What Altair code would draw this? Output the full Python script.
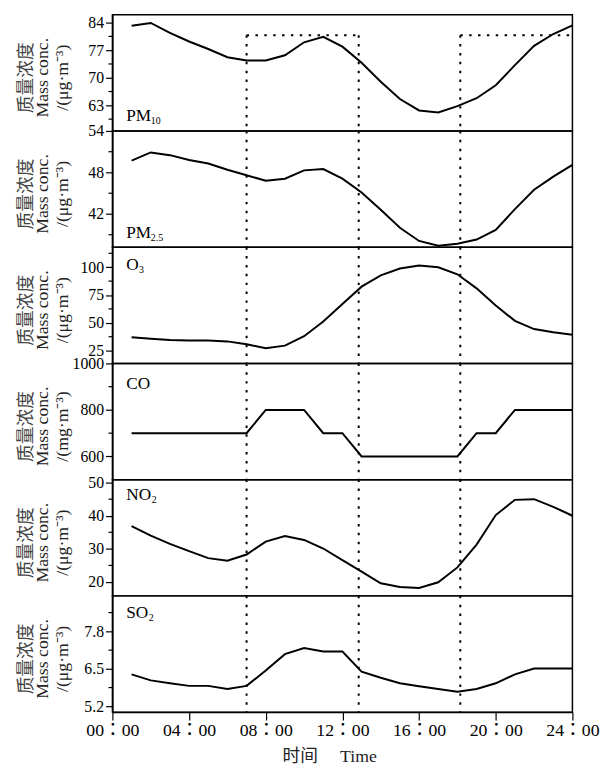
import altair as alt
import pandas as pd

hours = list(range(1, 25))
pm10 = [83.2, 83.9, 81.4, 79.2, 77.3, 75.2, 74.4, 74.4, 75.7, 79.0, 80.4, 77.9,
        73.8, 69.0, 64.6, 61.7, 61.2, 62.8, 64.8, 68.1, 73.2, 78.1, 81.1, 83.3]
pm25 = [49.7, 50.9, 50.5, 49.8, 49.3, 48.4, 47.6, 46.8, 47.1, 48.3, 48.5, 47.1,
        45.1, 42.6, 40.0, 38.1, 37.4, 37.7, 38.3, 39.7, 42.7, 45.5, 47.4, 49.1]
o3 = [37.1, 35.7, 34.5, 34.2, 34.2, 33.3, 30.7, 27.2, 29.5, 38.0, 51.2, 67.0,
      82.5, 92.7, 98.8, 101.5, 100.0, 93.6, 81.0, 65.5, 51.8, 44.4, 41.5, 39.2]
co = [700, 700, 700, 700, 700, 700, 700, 800, 800, 800, 700, 700,
      600, 600, 600, 600, 600, 600, 700, 700, 800, 800, 800, 800]
no2 = [36.9, 34.0, 31.5, 29.3, 27.2, 26.4, 28.3, 32.2, 33.9, 32.7, 30.1, 26.6,
       23.1, 19.6, 18.5, 18.2, 19.9, 24.4, 31.3, 40.2, 44.8, 45.0, 42.7, 40.0]
so2 = [6.31, 6.10, 6.00, 5.91, 5.91, 5.80, 5.91, 6.44, 7.01, 7.22, 7.10, 7.10,
       6.40, 6.19, 6.00, 5.90, 5.80, 5.71, 5.80, 6.00, 6.31, 6.51, 6.51, 6.51]

period_lines = [7, 12.85, 18.15]
box_start = [7, 18.15]
box_end = [12.85, 24]
box_top = 80.8
x_ticks = [0, 4, 8, 12, 16, 20, 24]

W, H = 467, 118
SERIF = "Liberation Serif, Noto Sans CJK TC"
TXT = "#222"

panels = [
    dict(vals=pm10, dom=[56.5, 86], ticks=[63, 70, 77, 84], minor=[59.5, 66.5, 73.5, 80.5],
         unit="/(μg·m⁻³)", lab="PM", sub="10", ly=108, sx=39, fmt="d"),
    dict(vals=pm25, dom=[37.2, 54], ticks=[42, 48, 54], minor=[39, 45, 51],
         unit="/(μg·m⁻³)", lab="PM", sub="2.5", ly=109, sx=39, fmt="d"),
    dict(vals=o3, dom=[13.5, 118], ticks=[25, 50, 75, 100], minor=[37.5, 62.5, 87.5, 112.5],
         unit="/(μg·m⁻³)", lab="O", sub="3", ly=23, sx=27, fmt="d"),
    dict(vals=co, dom=[500, 1000], ticks=[600, 800, 1000], minor=[700, 900],
         unit="/(mg·m⁻³)", lab="CO", sub="", ly=26, sx=40, fmt="d"),
    dict(vals=no2, dom=[15.8, 50.9], ticks=[20, 30, 40, 50], minor=[25, 35, 45],
         unit="/(μg·m⁻³)", lab="NO", sub="2", ly=21, sx=40, fmt="d"),
    dict(vals=so2, dom=[5, 9.03], ticks=[5.2, 6.5, 7.8], minor=[5.85, 7.15, 8.45],
         unit="/(μg·m⁻³)", lab="SO", sub="2", ly=22, sx=37, fmt=".1f"),
]

charts = []
for i, p in enumerate(panels):
    last = i == len(panels) - 1
    first = i == 0
    xscale = alt.Scale(domain=[0, 24], nice=False, zero=False)
    if last:
        xaxis = alt.Axis(values=x_ticks, labelExpr="(datum.value < 10 ? '0' : '') + datum.value + '：00'",
                         tickSize=8, labelFontSize=18, labelFont=SERIF, labelPadding=2,
                         labelFlush=False, labelOverlap=False, grid=False,
                         title="时间　  Time", titleFont=SERIF, titleFontSize=18,
                         titleFontWeight="normal", titleColor=TXT, titleX=220, titleY=50,
                         titleBaseline="alphabetic")
    else:
        xaxis = None
    yscale = alt.Scale(domain=p["dom"], nice=False, zero=False)
    yaxis = alt.Axis(values=p["ticks"], format=p["fmt"], tickSize=7, labelFontSize=16,
                     labelPadding=2, labelFlush=False, labelOverlap=False, grid=False,
                     title=None)
    X = alt.X("hour:Q", scale=xscale, axis=xaxis, title=None if not last else "时间　  Time")
    Y = alt.Y("value:Q", scale=yscale, axis=yaxis, title=None)

    df = pd.DataFrame({"hour": hours, "value": p["vals"]})
    line = alt.Chart(df).mark_line(color="black", strokeWidth=2).encode(x=X, y=Y)

    mdf = pd.DataFrame({"value": p["minor"]})
    minor = alt.Chart(mdf).mark_rule(color="black", strokeWidth=1.2).encode(
        y=Y, x=alt.value(-4), x2=alt.value(0))

    layers = [line, minor]

    if first:
        vdf = pd.DataFrame({"hour": period_lines, "value": [box_top] * len(period_lines)})
        vrule = alt.Chart(vdf).mark_rule(color="black", strokeWidth=2, strokeDash=[2.5, 6.5]).encode(
            x=X, y=Y, y2=alt.value(H))
        hdf = pd.DataFrame({"hour": box_start, "hour2": box_end, "value": [box_top] * 2})
        hrule = alt.Chart(hdf).mark_rule(color="black", strokeWidth=2, strokeDash=[2.5, 6.5]).encode(
            x=X, x2="hour2:Q", y=Y)
        layers += [vrule, hrule]
    else:
        vdf = pd.DataFrame({"hour": period_lines})
        vrule = alt.Chart(vdf).mark_rule(color="black", strokeWidth=2, strokeDash=[2.5, 6.5]).encode(
            x=X, y=alt.value(0), y2=alt.value(H))
        layers.append(vrule)

    for t, xp in zip(["质量浓度", "Mass conc.", p["unit"]], [-82, -65, -45]):
        cjk = t == "质量浓度"
        layers.append(
            alt.Chart(pd.DataFrame({"t": [t]})).mark_text(
                angle=270, align="center", baseline="alphabetic", fontSize=18,
                font="Noto Sans CJK SC" if cjk else SERIF,
                color="#444" if cjk else TXT,
                fontWeight="normal"
            ).encode(text="t:N", x=alt.value(xp), y=alt.value(64))
        )
    layers.append(
        alt.Chart(pd.DataFrame({"t": [p["lab"]]})).mark_text(
            align="left", baseline="alphabetic", fontSize=17.5, font=SERIF, color="black"
        ).encode(text="t:N", x=alt.value(14), y=alt.value(p["ly"]))
    )
    if p["sub"]:
        layers.append(
            alt.Chart(pd.DataFrame({"t": [p["sub"]]})).mark_text(
                align="left", baseline="alphabetic", fontSize=10, font=SERIF, color="black"
            ).encode(text="t:N", x=alt.value(p["sx"]), y=alt.value(p["ly"] + 3))
        )

    charts.append(alt.layer(*layers).properties(width=W, height=H))

chart = alt.vconcat(*charts, spacing=0, bounds="flush").properties(
    padding={"left": 9, "top": 0, "right": 0, "bottom": 2}
).configure(font=SERIF).configure_view(
    stroke="black", strokeWidth=1.5
).configure_axis(
    domainColor="black", domainWidth=1.5, tickColor="black", tickWidth=1.2,
    labelColor="black", labelFont=SERIF
)

chart.save("out.html", embed_options={"renderer": "svg", "actions": False})
